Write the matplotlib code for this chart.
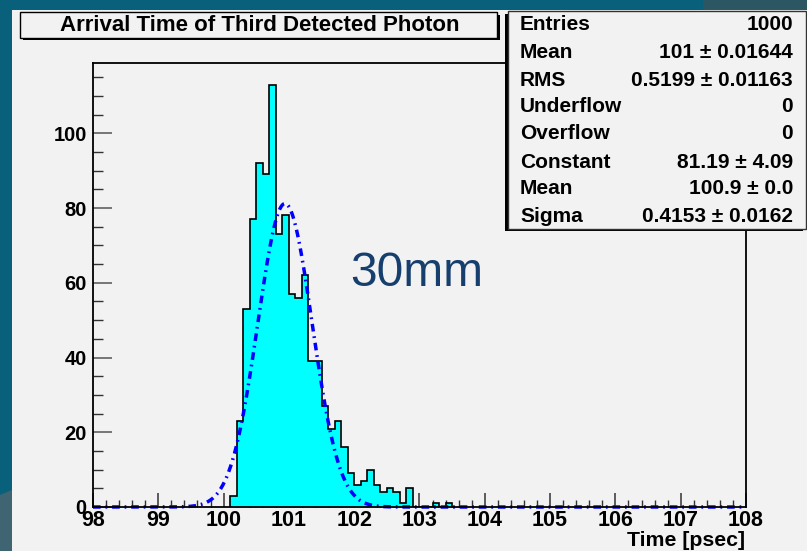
import numpy as np
import matplotlib
matplotlib.use("Agg")
import matplotlib.pyplot as plt
from matplotlib.patches import Rectangle, Polygon
from matplotlib.ticker import MultipleLocator

# ---------------- data ----------------
title = "Arrival Time of Third Detected Photon"
x_label = "Time [psec]"
annotation = "30mm"
first_bin_low = 100.1
bin_width = 0.1
counts = [3, 23, 53, 77, 92, 89, 113, 73, 78, 57, 56, 62, 39, 39, 27, 21, 23,
          16, 9, 6, 7, 10, 6, 4, 5, 4, 1, 5, 0, 0, 0, 1, 0, 1]
x_range = [98, 108]
y_max = 118.8
x_ticks = [98, 99, 100, 101, 102, 103, 104, 105, 106, 107, 108]
y_ticks = [0, 20, 40, 60, 80, 100]
fit_constant = 81.19
fit_mean = 100.94
fit_sigma = 0.4153
stat_names = ["Entries", "Mean", "RMS", "Underflow", "Overflow",
              "Constant", "Mean", "Sigma"]
stat_values = ["1000", "101 \u00b1 0.01644", "0.5199 \u00b1 0.01163", "0", "0",
               "81.19 \u00b1 4.09", "100.9 \u00b1 0.0", "0.4153 \u00b1 0.0162"]

# ---------------- figure ----------------
W, H = 807, 551
fig = plt.figure(figsize=(W / 100, H / 100), dpi=100)
fig.patch.set_facecolor("#08607a")
FONT = "Liberation Sans"


def fx(px):
    return px / W


def fy(py):
    return 1 - py / H


# background pieces
fig.patches.append(Polygon([(fx(703), fy(0)), (fx(807), fy(0)), (fx(807), fy(12)), (fx(703), fy(12))],
                           closed=True, transform=fig.transFigure, facecolor="#2b5662",
                           edgecolor="none", zorder=-3))
fig.patches.append(Polygon([(fx(0), fy(495)), (fx(12), fy(490)), (fx(12), fy(551)), (fx(0), fy(551))],
                           closed=True, transform=fig.transFigure, facecolor="#3f6572",
                           edgecolor="none", zorder=-3))
fig.patches.append(Rectangle((fx(12), fy(551)), fx(807 - 12), (551 - 10) / H,
                             transform=fig.transFigure, facecolor="#f2f2f2",
                             edgecolor="none", zorder=-2))

# ---------------- axes ----------------
ax = fig.add_axes([fx(93), fy(507), (746 - 93) / W, (507 - 63) / H])
ax.set_zorder(2)
ax.set_facecolor("#f2f2f2")
ax.set_xlim(*x_range)
ax.set_ylim(0, y_max)

edges = first_bin_low + bin_width * np.arange(len(counts) + 1)
ax.stairs(counts, edges, fill=True, facecolor="#00ffff", edgecolor="none", zorder=2)
ax.stairs(counts, edges, fill=False, edgecolor="black", linewidth=1.2, zorder=3)

xs = np.linspace(x_range[0], x_range[1], 2000)
gauss = fit_constant * np.exp(-0.5 * ((xs - fit_mean) / fit_sigma) ** 2)
ax.plot(xs, gauss, color="#0000ff", linewidth=2.5,
        linestyle=(0, (2.2, 1.4, 0.5, 1.4)), zorder=4, clip_on=False)

for s in ax.spines.values():
    s.set_linewidth(1.3)
    s.set_color("black")
    s.set_zorder(5)

ax.set_xticks(x_ticks)
ax.set_yticks(y_ticks)
ax.xaxis.set_minor_locator(MultipleLocator(0.2))
ax.yaxis.set_minor_locator(MultipleLocator(5))
ax.tick_params(axis="x", which="major", direction="in", length=10, width=1.1,
               color="#333333", pad=2)
ax.tick_params(axis="x", which="minor", direction="in", length=5, width=1.0,
               color="#333333")
ax.tick_params(axis="y", which="major", direction="in", length=13.5, width=1.1,
               color="#555555", pad=4.5)
ax.tick_params(axis="y", which="minor", direction="in", length=7, width=1.0,
               color="#333333")
ax.tick_params(top=False, right=False, which="both")
for lab in ax.get_xticklabels():
    lab.set_fontfamily(FONT)
    lab.set_fontweight("bold")
    lab.set_fontsize(15.5)
for lab in ax.get_yticklabels():
    lab.set_fontfamily(FONT)
    lab.set_fontweight("bold")
    lab.set_fontsize(14.5)

fig.text(fx(745), fy(541), x_label, ha="right", va="center", fontfamily=FONT,
         fontweight="bold", fontsize=15.3, zorder=10)

# "30mm" annotation
fig.text(fx(350), fy(273), annotation, ha="left", va="center", fontfamily=FONT,
         fontsize=34.5, color="#173f6e", zorder=10)

# ---------------- title box ----------------
fig.patches.append(Rectangle((fx(23), fy(40)), (500 - 23) / W, (40 - 15) / H,
                             transform=fig.transFigure, facecolor="black",
                             edgecolor="none", zorder=6))
fig.patches.append(Rectangle((fx(20), fy(37.5)), (497 - 20) / W, (37.5 - 12) / H,
                             transform=fig.transFigure, facecolor="#f2f2f2",
                             edgecolor="black", linewidth=1.0, zorder=7))
fig.text(fx(259.5), fy(25.5), title, ha="center", va="center", fontfamily=FONT,
         fontweight="bold", fontsize=16, zorder=8)

# ---------------- stats box ----------------
fig.patches.append(Rectangle((fx(504.5), fy(231)), (803 - 504.5) / W, (231 - 14) / H,
                             transform=fig.transFigure, facecolor="black",
                             edgecolor="none", zorder=6))
fig.patches.append(Rectangle((fx(507.5), fy(228.5)), (806 - 507.5) / W, (228.5 - 11) / H,
                             transform=fig.transFigure, facecolor="#f2f2f2",
                             edgecolor="#333333", linewidth=1.0, zorder=7))
row_y = [25, 52, 80, 107, 134, 162, 189, 216]
for name, val, yy in zip(stat_names, stat_values, row_y):
    fig.text(fx(520), fy(yy), name, ha="left", va="center", fontfamily=FONT,
             fontweight="bold", fontsize=15, zorder=8)
    fig.text(fx(793), fy(yy), val, ha="right", va="center", fontfamily=FONT,
             fontweight="bold", fontsize=15, zorder=8)

fig.savefig("out.png", dpi=100, facecolor=fig.get_facecolor())
